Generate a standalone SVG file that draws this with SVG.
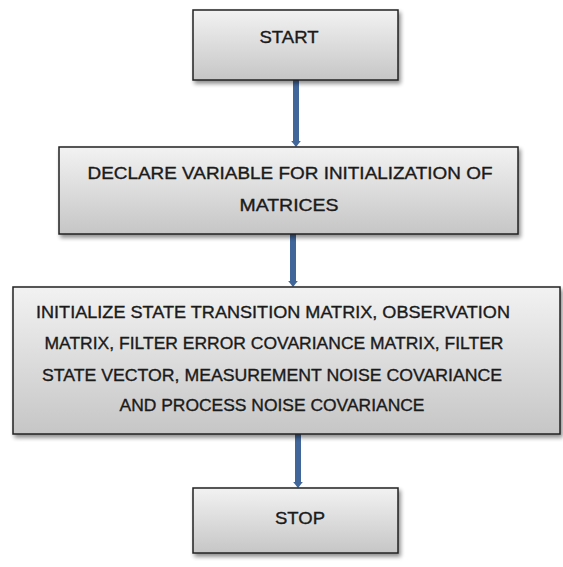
<svg xmlns="http://www.w3.org/2000/svg" width="563" height="567" viewBox="0 0 563 567">
<defs>
<linearGradient id="g" x1="0" y1="0" x2="0" y2="1">
<stop offset="0" stop-color="#f2f2f2"/>
<stop offset="1" stop-color="#c6c6c6"/>
</linearGradient>
<filter id="sh" x="-5%" y="-10%" width="115%" height="130%">
<feGaussianBlur in="SourceAlpha" stdDeviation="2"/>
<feOffset dx="2" dy="3" result="b"/>
<feComponentTransfer><feFuncA type="linear" slope="0.45"/></feComponentTransfer>
<feMerge><feMergeNode/><feMergeNode in="SourceGraphic"/></feMerge>
</filter>
<marker id="ah" markerWidth="2" markerHeight="2" refX="0" refY="1" orient="auto" markerUnits="strokeWidth">
<path d="M0,0.2 L1,1 L0,1.8 Z" fill="#41669a"/>
</marker>
<style>
.box{fill:url(#g);stroke:#222;stroke-width:1.5;filter:url(#sh)}
.t{font-family:"Liberation Sans",Arial,sans-serif;font-size:17px;fill:#1a1a1a;stroke:#1a1a1a;stroke-width:0.35;text-anchor:middle}
.c{stroke:#41669a;stroke-width:6;fill:none}
</style>
</defs>
<g id="connectors">
<line class="c" x1="296" y1="80" x2="296" y2="141" marker-end="url(#ah)"/>
<line class="c" x1="293" y1="234" x2="293" y2="281" marker-end="url(#ah)"/>
<line class="c" x1="298" y1="434" x2="298" y2="482" marker-end="url(#ah)"/>
</g>
<g id="start">
<rect class="box" x="193" y="10" width="205" height="70"/>
<text class="t" x="289" y="43" textLength="59" lengthAdjust="spacingAndGlyphs">START</text>
</g>
<g id="declare">
<rect class="box" x="59" y="147" width="459" height="87"/>
<text class="t" x="290" y="179" textLength="405" lengthAdjust="spacingAndGlyphs">DECLARE VARIABLE FOR INITIALIZATION OF</text>
<text class="t" x="289" y="211" textLength="99" lengthAdjust="spacingAndGlyphs">MATRICES</text>
</g>
<g id="initialize">
<rect class="box" x="13" y="287" width="547" height="147"/>
<text class="t" x="273" y="318" textLength="474" lengthAdjust="spacingAndGlyphs">INITIALIZE STATE TRANSITION  MATRIX, OBSERVATION</text>
<text class="t" x="274" y="349" textLength="459" lengthAdjust="spacingAndGlyphs">MATRIX, FILTER ERROR COVARIANCE MATRIX, FILTER</text>
<text class="t" x="272" y="381" textLength="460" lengthAdjust="spacingAndGlyphs">STATE VECTOR, MEASUREMENT NOISE COVARIANCE</text>
<text class="t" x="272" y="411" textLength="305" lengthAdjust="spacingAndGlyphs">AND PROCESS NOISE COVARIANCE</text>
</g>
<g id="stop">
<rect class="box" x="193" y="488" width="205" height="65"/>
<text class="t" x="300" y="524" textLength="50" lengthAdjust="spacingAndGlyphs">STOP</text>
</g>
</svg>
